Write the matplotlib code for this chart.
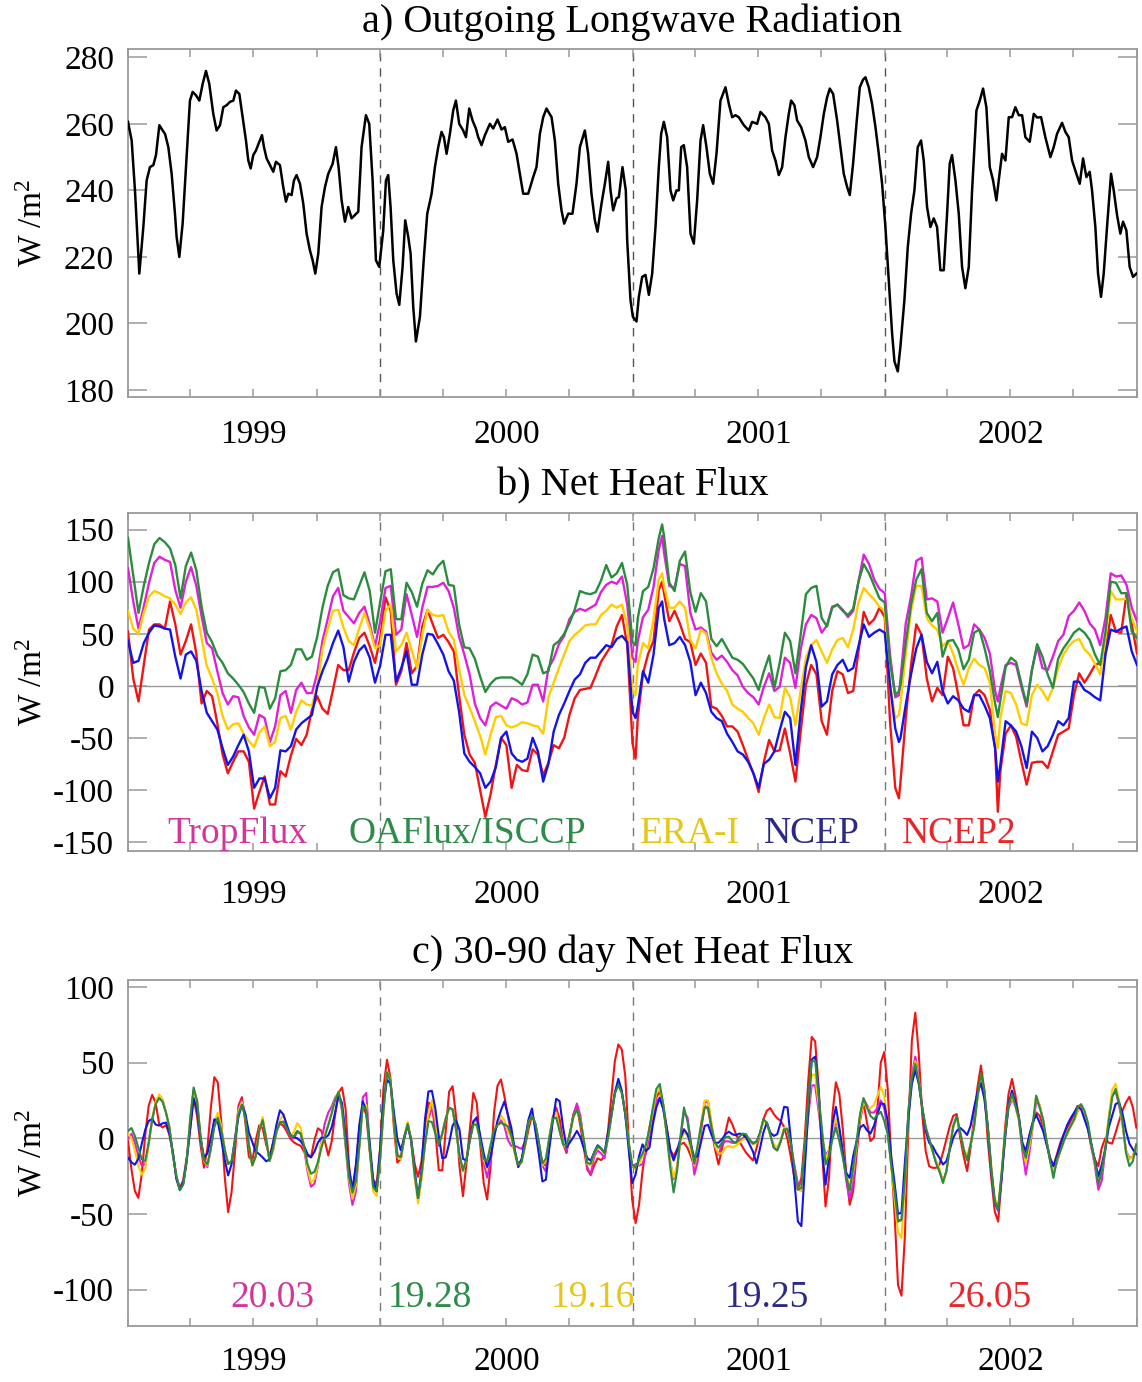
import numpy as np
import matplotlib
matplotlib.use("Agg")
import matplotlib.pyplot as plt

plt.rcParams['font.family'] = ['Liberation Serif', 'DejaVu Serif']
plt.rcParams['mathtext.default'] = 'regular'

# ---------------- data ----------------
# time axis: days since 1999-01-01
year_labels = ['1999', '2000', '2001', '2002']
year_mid_days = [182, 548, 913, 1278]
year_bounds = [365, 731, 1096]
quarter_days = [0, 90, 181, 273, 365, 456, 547, 639, 731, 821, 912, 1004,
                1096, 1186, 1277, 1369, 1461]

# a) OLR
olr_day = [0, 5.3, 10.1, 16.4, 22.2, 27.0, 31.8, 36.7, 40.5, 45.4, 50.2, 53.6, 58.4, 63.2, 68.0, 70.4,
           74.3, 79.1, 84.0, 89.7, 93.6, 98.4, 103.3, 108.1, 112.9, 117.7, 123.5, 128.3, 133.2, 138.0,
           142.8, 147.6, 152.5, 156.3, 161.2, 166.0, 170.8, 174.2, 177.6, 181.4, 185.3, 190.1, 194.0,
           196.9, 200.7, 205.5, 210.4, 214.2, 220.0, 224.8, 228.7, 232.1, 236.9, 240.3, 244.1, 249.0,
           253.8, 258.6, 263.4, 267.3, 271.2, 275.5, 280.3, 285.2, 290.0, 296.3, 301.1, 304.9, 309.3,
           314.1, 318.9, 323.8, 328.6, 333.4, 338.2, 344.5, 349.3, 354.2, 359.0, 363.8, 369.6, 373.5,
           376.8, 380.2, 384.1, 388.9, 392.8, 397.6, 401.4, 405.8, 409.2, 413.0, 416.9, 422.7, 428.5,
           433.3, 439.6, 444.4, 449.2, 454.0, 457.4, 461.3, 466.1, 470.9, 474.8, 479.6, 485.4, 489.3,
           494.1, 498.9, 503.7, 507.1, 511.9, 516.8, 524.0, 528.8, 535.1, 540.9, 545.7, 550.5, 556.8,
           562.6, 567.4, 572.2, 579.5, 586.7, 591.5, 596.4, 601.2, 606.0, 613.3, 618.1, 622.9, 627.7,
           631.6, 637.4, 643.6, 649.4, 654.3, 661.5, 666.3, 671.1, 676.0, 679.8, 685.6, 690.5, 695.3,
           698.7, 702.5, 707.3, 710.7, 716.0, 720.8,
           722.8, 727.6, 731.0, 736.3, 739.7, 744.5, 749.3, 754.2, 759.0, 763.8, 768.6, 772.0, 775.9,
           780.7, 785.5, 789.4, 794.2, 797.6, 801.0, 804.8, 809.6, 814.5, 819.3, 824.1, 829.0, 832.8,
           837.6, 842.5, 847.3, 852.1, 857.9, 865.1, 870.0, 874.8, 879.6, 884.4, 891.7, 898.9, 903.7,
           911.0, 915.8, 923.0, 927.9, 932.7, 937.5, 942.3, 947.2, 952.0, 956.8, 960.2, 965.0, 968.9,
           974.7, 980.9, 985.8, 992.0, 997.8, 1002.6, 1007.5, 1012.3, 1016.2, 1021.0, 1026.8, 1031.6,
           1036.4, 1041.3, 1045.1, 1049.9, 1054.8, 1059.6, 1064.4, 1067.8, 1072.6, 1077.4, 1082.3,
           1087.1, 1091.9, 1096.7, 1101.6, 1106.4, 1109.8, 1114.6, 1118.4, 1124.2, 1129.1, 1133.9,
           1138.7, 1143.5, 1148.3, 1152.2, 1157.0, 1161.9, 1166.7, 1171.5, 1176.3, 1181.2, 1186.0,
           1189.8, 1193.2, 1198.1, 1202.9, 1207.7, 1212.5, 1217.4, 1222.2, 1228.5, 1233.3, 1238.1,
           1242.9, 1247.8, 1252.6, 1257.4, 1260.8, 1265.6, 1270.5, 1275.3, 1280.1, 1284.9, 1289.8,
           1294.6, 1299.4, 1305.7, 1311.5, 1316.3, 1322.1, 1328.3, 1335.6, 1340.4, 1345.2, 1352.5,
           1357.3, 1362.1, 1367.0, 1373.2, 1378.1, 1382.9, 1387.7, 1392.5, 1395.9, 1400.7, 1404.6,
           1408.9, 1412.8, 1417.6, 1423.4, 1427.3, 1432.1, 1436.9, 1440.8, 1445.6, 1450.4, 1455.3,
           1460.1]
olr_val = [260.6, 255, 240, 215, 229, 243, 247, 247.6, 250.6, 259.6, 258, 257, 253, 245, 233, 226,
           220, 230, 247, 267, 269.6, 268.6, 267, 272, 275.9, 272, 263, 258, 259.6, 265,
           265.6, 266.6, 267, 270, 269, 262, 255, 249, 246.6, 250.6, 252, 254.6, 256.6,
           253, 249.6, 247.6, 245.6, 248.6, 247.6, 241, 236.6, 239, 238.6, 243, 244.6, 242,
           236, 227, 222, 219, 215, 221, 235, 241, 245, 248, 253, 247, 237,
           230.6, 235, 231.6, 232.6, 233.6, 253, 262.6, 260, 243, 219, 217, 228, 243,
           244.6, 235, 219, 209, 205.6, 217, 231, 226, 221, 205, 194.6, 202, 220,
           233, 239, 247, 253, 257.6, 256, 251, 257, 264, 267, 260, 258, 256,
           264.6, 261, 258.6, 256, 253.6, 256.6, 260, 258.6, 261.3, 258.3, 259, 254.6, 255.3,
           251, 245, 239, 239, 244, 247, 257, 262, 264.6, 262, 255, 242, 234,
           230, 233, 233, 242, 253, 258, 251, 239, 231, 227.6, 236, 242, 248.6,
           240, 234, 237.6, 238, 247, 240,
           225, 207, 202, 200.6, 208, 214, 214.6, 208.6, 215, 229, 247, 257, 260.6,
           256, 240, 237, 240, 240, 253, 253.6, 247, 227, 224, 237, 255, 259.6,
           253, 245, 242, 251, 267, 271, 266, 262, 262.6, 262, 259.6, 258, 260.6,
           260, 263.6, 262, 260, 252, 249, 244.6, 247, 256, 263, 267, 265.6, 261,
           259, 255, 250, 247, 250, 256, 263, 268, 270.6, 269, 261, 253,
           245, 241, 238.6, 248, 260, 271, 273.3, 274, 271, 266, 259,
           251, 242, 229, 213, 197, 188.6, 185.6, 193, 207, 223, 233,
           240, 253, 255, 249, 235, 229, 231.6, 229, 216, 216, 233,
           248, 250.6, 243, 233, 217, 210.6, 217, 240, 264, 267, 270.6,
           265, 247, 243, 237, 243, 251, 249, 262, 262, 265, 262.6,
           262.6, 256, 254.6, 263, 261.9, 262, 256, 250, 253, 257, 260.3,
           257.6, 256, 249, 245, 242, 249.6, 244, 245.6, 240, 229, 215,
           208, 215, 229, 245, 240, 232.6, 227, 230.6, 228, 217, 214,
           215]

# b) Net heat flux: 48 samples per year (1999-01-01 .. 2003-01-01) ...
b_tropflux = [113, 81, 55, 76, 99, 118, 124, 121, 119, 92, 75, 100, 114, 96, 67, 41, 36, 14, -7, -18,
              -10, -11, -29, -40, -47, -28, -31, -54, -39, -9, -5, -26, -4, 3, -7, -7, 12, 43, 64, 86,
              94, 72, 66, 60, 70, 76, 59, 38,
              62, 94, 96, 49, 54, 88, 68, 47, 75, 95, 95, 96, 99, 91, 75, 47, 30, 11, -17, -31,
              -38, -20, -16, -19, -22, -12, -14, -18, -16, 1, 1, -15, 17, 26, 40, 48, 64, 71, 74, 72,
              75, 78, 90, 97, 100, 98, 105, 78,
              27, 43, 66, 73, 95, 131, 128, 96, 94, 117, 115, 70, 54, 56, 52, 32, 25, 29, 23, 15,
              10, -1, -7, -11, -18, -1, 12, -5, -1, 27, 22, -2, 35, 59, 68, 65, 51, 58, 76, 78,
              73, 66, 72, 100, 126, 117, 102, 93,
              89, 30, -11, 7, 60, 86, 120, 123, 83, 84, 81, 51, 65, 80, 59, 36, 39, 59, 54, 46,
              31, -5, -2, 20, 22, 20, -1, -20, 15, 38, 17, 15, 28, 43, 49, 67, 72, 80, 72, 60,
              54, 39, 65, 108, 105, 106, 97, 75, 62]
b_oaflux = [142, 106, 70, 96, 118, 136, 142, 138, 132, 116, 84, 115, 128, 111, 76, 51, 42, 29, 22, 12,
            7, 1, -6, -17, -26, -1, -2, -22, -12, 14, 15, 20, 35, 35, 25, 28, 47, 75, 96, 109,
            112, 87, 84, 83, 96, 109, 91, 51,
            81, 110, 112, 64, 64, 99, 90, 76, 98, 111, 107, 115, 120, 97, 96, 59, 37, 36, 26, 9,
            -6, 2, 7, 8, 8, 8, 5, 1, 11, 30, 28, 12, 14, 39, 43, 50, 60, 73, 91, 89,
            88, 90, 101, 116, 104, 108, 118, 97,
            42, 65, 91, 95, 113, 142, 144, 99, 91, 120, 129, 90, 71, 89, 81, 45, 38, 45, 36, 27,
            25, 21, 14, 7, -4, 14, 29, -2, 22, 51, 43, 12, 49, 88, 94, 96, 65, 57, 75, 78,
            72, 68, 74, 100, 117, 108, 96, 84,
            80, 23, -9, 1, 41, 78, 102, 112, 70, 62, 70, 28, 43, 44, 35, 16, 25, 51, 54, 36,
            14, -17, -14, 18, 27, 23, 2, -18, 15, 40, 28, 11, -2, 26, 36, 43, 51, 55, 51, 44,
            30, 20, 52, 100, 99, 89, 89, 52, 46]
b_erai = [72, 55, 50, 70, 86, 91, 89, 86, 84, 78, 69, 80, 85, 73, 46, 19, 7, -7, -29, -42,
          -37, -36, -46, -53, -59, -45, -39, -58, -54, -31, -29, -42, -25, -14, -18, -19, -1, 35, 55, 72,
          73, 56, 43, 39, 55, 70, 55, 36,
          39, 72, 78, 33, 39, 51, 34, 17, 49, 73, 68, 67, 68, 52, 44, 17, -9, -21, -34, -48,
          -66, -47, -30, -29, -38, -40, -38, -35, -36, -38, -39, -46, -11, 3, 17, 30, 43, 49, 53, 58,
          59, 59, 68, 72, 78, 75, 78, 59,
          -5, 20, 41, 36, 64, 102, 96, 75, 75, 81, 75, 44, 36, 54, 50, 27, 12, 2, -5, -18,
          -22, -25, -31, -36, -47, -31, -18, -30, -31, -2, -11, -38, -4, 27, 39, 44, 33, 22, 35, 44,
          46, 37, 54, 80, 94, 88, 83, 76,
          72, 1, -31, -17, 30, 72, 96, 96, 65, 58, 54, 38, 43, 31, 15, 1, 17, 26, 20, 17,
          3, -47, -31, -5, -7, -18, -36, -38, -9, 1, -5, -14, -2, 17, 30, 38, 43, 45, 35, 30,
          21, 11, 46, 91, 83, 83, 84, 65, 52]
b_ncep = [43, 22, 24, 41, 51, 58, 57, 55, 54, 28, 7, 30, 33, 24, -5, -26, -34, -42, -60, -76,
          -68, -57, -47, -63, -98, -89, -89, -108, -98, -62, -63, -58, -42, -36, -32, -28, -1, 14, 26, 41,
          53, 37, 4, 23, 34, 39, 27, 3,
          20, 49, 49, 4, 17, 33, 1, 1, 30, 50, 49, 40, 30, 14, 5, -25, -65, -73, -78, -84,
          -98, -92, -78, -50, -44, -65, -71, -73, -70, -50, -63, -92, -75, -44, -28, -17, -5, 6, 11, 22,
          27, 27, 33, 39, 37, 45, 48, 42,
          -25, -20, 14, 3, 30, 75, 65, 39, 41, 47, 39, 23, -9, 3, -7, -25, -31, -34, -46, -54,
          -63, -66, -73, -84, -98, -75, -71, -63, -43, -25, -31, -76, -25, 18, 39, 23, -20, -15, 11, 20,
          25, 14, 17, 38, 59, 47, 51, 54,
          51, 1, -41, -50, -18, 11, 36, 49, 23, 12, 23, -5, -17, -10, -14, -22, -25, -9, -9, -19,
          -31, -60, -76, -34, -38, -44, -58, -79, -44, -50, -63, -58, -47, -34, -38, -31, 4, 4, -4, -7,
          -11, -14, 30, 54, 52, 55, 57, 33, 20]
b_ncep2 = [52, 7, -15, 20, 54, 59, 59, 55, 81, 59, 30, 43, 59, 31, -17, -5, -10, -36, -66, -84,
           -73, -63, -63, -73, -118, -102, -87, -114, -114, -82, -87, -67, -51, -57, -47, -23, -10, -22, -27, -4,
           20, 15, 15, 32, 46, 51, 38, 22,
           46, 85, 72, 1, 14, 41, 12, 19, 57, 73, 59, 46, 49, 42, 33, -9, -47, -66, -74, -100,
           -126, -104, -76, -50, -57, -98, -76, -81, -82, -61, -66, -86, -74, -57, -60, -50, -28, -12, -4, -3,
           -2, 10, 23, 31, 39, 57, 68, 39,
           -55, -31, 12, 31, 43, 92, 89, 62, 72, 60, 45, 42, 20, 31, 22, -20, -22, -29, -39, -39,
           -44, -57, -71, -84, -102, -73, -52, -63, -62, -41, -65, -92, -44, 1, 20, 11, -34, -47, -5, 14,
           11, -7, -5, 33, 71, 59, 64, 75,
           66, -34, -98, -92, -31, 20, 59, 49, 7, -15, -2, -9, 28, 17, -9, -38, -38, -9, -4, -9,
           -23, -60, -82, -46, -38, -49, -73, -95, -74, -73, -73, -79, -63, -47, -44, -41, -9, 12, 3, 11,
           20, 22, 33, 68, 52, 51, 88, 59, 31]
b_day = np.linspace(0, 1461, len(b_tropflux))
# ... plus a few extra samples at sharp extremes
b_extra_day = [734.9, 773.4, 1116.3, 1259.5]
b_extra = {'TropFlux': [23, 144, -9, -15], 'OAFlux/ISCCP': [39, 155, -5, -30], 'ERA-I': [-9, 108, -28, -60],
           'NCEP': [-31, 81, -54, -92], 'NCEP2': [-70, 100, -108, -121]}

# c) 30-90 day filtered net heat flux, 5-day samples from 1999-01-01
c_day = list(range(0, 1461, 5))
c_tropflux = [0, 3, -3, -12, -18, -17, -3, 12, 23, 27, 25, 17, 7, -11, -25, -34, -30, -15, 12, 32,
              25, 1, -15, -19, -7, 9, 16, 7, -7, -17, -15, -1, 20, 25, 15, -4, -18, -12, 5, 12,
              0, -15, -8, 4, 10, 11, 6, 1, 0, 4, 3, -7, -22, -32, -30, -18, -2, 10, 17, 21,
              27, 30, 18, -5, -30, -44, -35, -5, 27, 30, -6, -32, -35, -14, 19, 43, 38, 12, -10, -14,
              0, 9, -2, -25, -41, -26, -4, 13, 20, 10, -5, 3, 13, 20, 19, 6, -11, -21, -14, -1,
              10, 14, 0, -16, -26, -15, 3, 9, 12, 8, -1, -5, -5, -6, -7, -2, 11, 16, 9, -4,
              -18, -22, 0, 14, 18, 5, -4, -8, 2, 16, 23, 15, -2, -19, -24, -12, -8, -10, -13, 0,
              15, 30, 36, 30, 16, -3, -19,
              -17, -18, -17, -10, 2, 14, 24, 27, 20, 3, -15, -27, -20, 0, 17, 14, -2, -24, -15, 8,
              24, 24, 8, -6, -11, -4, -2, -2, -3, -3, -2, 0, 2, -1, -3, -2, 3, 11, 10, 2,
              -6, -8, -2, 6, 6, -4, -18, -30, -30, -8, 15, 35, 35, 18, 0, -11, -8, 3, 11, 5,
              -10, -28, -40, -30, -6, 15, 26, 22, 17, 17, 20, 25, 20, 5, -17, -35, -54, -54, -28, 18,
              42, 54, 40, 20, 7, 0, -8, -16, -22, -28, -22, -6, 8, 14, 4, -7, -13, -4, 8, 28,
              40, 30, 7, -20, -43, -48, -25, 1, 20, 26, 21, 12, -8, -24, -10, 8, 24, 22, 12, -2,
              -14, -23, -16, -8, -2, 3, 8, 12, 18, 20, 17, 8, -6, -18, -34, -28, -8, 12, 28, 31,
              22, 9, -8, -13, -12, -4]
c_oaflux = [4.9, 6.8, 1.5, -6.2, -13.9, -15, -2.9, 12.6, 22.5, 26.5, 24.3, 17, 7.1, -11, -25, -34.4, -30.5, -15,
            12.1, 33.6, 24.7, 1.3, -14.4, -17.2, -6.2, 7.5, 13.5, 5.7, -7.5, -17, -15, -1.1, 16.3, 22.1, 13.2,
            -4.6, -17.7, -11.7, 4.9, 12.1, -0.4, -14.8, -6.6, 4.9, 10.6, 11, 6.6, 2, 1.1, 4.9, 3.3, -5.1, -17.2,
            -23.4, -22.1, -15.7, -6.4, 1.1, 8.6, 16.6, 25.4, 30.7, 19.9, -2.9, -25.6, -35.8, -28.3, -5.1, 21.6,
            18.8, -7.3, -32.2, -35.1, -13.9, 19.2, 43.7, 38, 12.6, -11.7, -12.4, 0, 9.5, -1.1, -23, -39.3, -23.8,
            -4, 11.3, 10.8, 3.1, -4, 3.1, 13, 20.3, 19.2, 6, -11.7, -21.2, -14.1, -1.3, 9.1, 8.8, -1.8, -13.5,
            -15, -4.2, 5.3, 8.8, 10.2, 9.3, 7.9, 2, -8.6, -17.7, -15.5, -4.2, 11.3, 15, 9.5, -2.9, -16.6, -13.5,
            0.4, 12.8, 13.7, 4.9, -4, -4.6, 3.8, 14.4, 19, 11.9, -1.1, -16.3, -16.8, -9.3, -5.3, -6.8, -9.9, 0.4,
            14.8, 29.8, 35.1, 30, 16.6, -2.9, -17.2,
            -19.5, -14, -10.2, -4, 6, 20.4, 32.6, 35.9, 22.6, 2.7, -18.4, -35.7, -21.7, 1.6, 20.4, 11.5, -4, -16.8,
            -4, 9.3, 20.4, 20.4, 7.5, -2.9, -6.2, -2.9, 0.9, 1.1, -1.8, -2.9, 0.9, 3.1, 2.7, -1.3, -3.5, -2.4,
            3.8, 12.6, 10.4, 2.7, -6.2, -8, -2.2, 6, 6, -4, -19.5, -33.9, -32.8, -6.2, 24.8, 51, 51, 28.2, 6,
            -17.3, -11.8, -0.7, 7.1, -1.8, -12.9, -25.1, -34.6, -19.5, -1.8, 16, 26.6, 20.4, 14.9, 12.6, 15.3,
            17.5, 11.5, 2.7, -17.3, -35, -55, -54, -26.2, 18.2, 40.3, 49.2, 37, 20.4, 7.5, -0.7, -8.4, -16.2,
            -21.7, -29.5, -21.7, -6.2, 8.2, 14.9, 3.8, -7.3, -14.6, -4, 7.1, 27, 43, 31.5, 7.1, -20.6, -41.7,
            -47, -22.8, 2.7, 21.5, 29.3, 21.5, 13.7, -6.2, -12.9, -1.8, 9.3, 28.2, 20.4, 12.6, -1.8, -14.6,
            -26.2, -14, -8.4, -1.8, 3.8, 8.2, 12.6, 20.4, 22.6, 18.2, 10.4, -4, -15.1, -30.6, -21.7, -7.3, 11.5,
            27, 32.6, 23.7, 11.5, -9.5, -18.4, -15.1, -4]
c_erai = [3, 0, -8, -18, -24, -20, -4, 13, 24, 29, 26, 17, 7, -11, -25, -34, -30, -15, 12, 31,
          24, 1, -15, -18, -6, 10, 17, 8, -7, -17, -15, -1, 18, 24, 14, -4, -18, -12, 5, 14,
          0, -15, -8, 4, 12, 16, 8, 2, 4, 10, 7, -5, -20, -29, -27, -17, -3, 3, 9, 17,
          26, 31, 20, -3, -27, -40, -31, -5, 22, 22, -7, -35, -38, -14, 19, 44, 39, 12, -12, -14,
          0, 11, -1, -25, -43, -27, -4, 16, 25, 13, -4, 3, 13, 20, 19, 6, -12, -22, -14, -1,
          10, 10, -1, -14, -20, -8, 5, 10, 15, 12, 5, 0, -10, -19, -16, -4, 11, 16, 9, -4,
          -18, -15, 0, 14, 17, 5, -4, -6, 3, 14, 19, 12, -1, -17, -18, -10, -6, -7, -10, 0,
          15, 30, 37, 31, 17, -3, -18,
          -20, -17, -12, -5, 5, 18, 30, 33, 22, 2, -15, -26, -18, -2, 4, 2, -8, -18, -8, 10,
          25, 25, 10, -5, -10, -10, -6, -5, -6, -5, -3, -1, 0, -2, -4, -3, 3, 11, 10, 2,
          -4, -6, -1, 7, 7, -4, -20, -34, -35, -8, 20, 42, 42, 22, 2, -14, -8, 5, 13, 5,
          -8, -24, -32, -22, -4, 14, 24, 20, 20, 22, 28, 34, 28, 10, -18, -40, -62, -66, -30, 16,
          40, 51, 38, 20, 7, -2, -9, -15, -20, -29, -22, -6, 8, 14, 4, -7, -12, -4, 8, 26,
          38, 30, 7, -18, -40, -44, -22, 3, 22, 27, 21, 12, -5, -16, -5, 8, 28, 22, 12, -2,
          -14, -22, -15, -8, -2, 3, 8, 12, 18, 20, 17, 8, -5, -16, -28, -22, -6, 14, 32, 36,
          25, 9, -8, -14, -12, -4]
c_ncep = [-12.8, -15.9, -17.4, -13.5, -3.5, 5.7, 11.5, 12.8, 9.1, 8.4, 9.9, 10.4, 3.3, -9.3, -26.9, -33.8,
          -29.4, -14.4, 6, 26.3, 18.8, -0.2, -12.6, -9.9, 0.4, 12.6, 11, -0.4, -14.1, -24.5, -17, -0.2, 14.4,
          22.1, 16.1, 3.8, -2.6, -8.8, -10.4, -12.6, -15.2, -13.9, -3.3, 9.1, 18.5, 15.7, 8.8, 2.2, 0.9, 0,
          -1.8, -5.3, -10.4, -12.6, -8.8, -2.9, 0.4, 0.4, 2, 7.5, 17.2, 28.7, 23.2, 2.2, -20.3, -33.6, -17.2,
          9.1, 24.5, 18.1, -3.1, -27.6, -34.9, -7.3, 24.1, 38.6, 36.2, 17.4, -0.4, -7.9, 0.4, 8.6, -1.1,
          -20.8, -39.3, -21, 12.4, 30.9, 31.4, 19.7, 1.5, -13.2, -12.6, -3.3, 8.4, 11.9, 5.7, -13.5, -14.8,
          -0.4, 11.3, 13.7, 2, -9.9, -19, -12.1, 0.4, 11.5, 18.5, 24.3, 15.9, 7.1, -7.3, -19, -13.7, -0.4,
          12.6, 19.7, 4.6, -10.8, -28.5, -27.4, -6.8, 11.3, 26.1, 24.5, 7.1, -6, -2.6, 0.9, 4.9, 0.7, -6.6,
          -13, -14.8, -9.3, -4.6, -6.6, -9.5, 3.3, 16.1, 30.2, 39.3, 31.4, 15.9, -7.3, -29.6,
          -23.9, -11.8, -4, -8.4, -6.2, 9.3, 20.4, 26.6, 19.3, 7.1, -7.3, -14.6, -8.4, 0, 6, 2.7, -4, -12.9,
          -11.8, -1.8, 8.2, 8.9, 2.2, -2.9, -2.9, -0.7, 2.7, 4.4, 2.7, 2, 3.1, 2.7, 0.4, -4, -8.9, -16.6,
          -6.9, 3.8, 10.4, 3.8, 1.6, 2.7, 10.4, 20.8, 20.4, -1.8, -28.4, -55, -58, -19.5, 18.2, 52, 54, 31.5,
          -8.4, -30.6, -12.9, 9.3, 20.8, 7.1, -8.9, -22.8, -26.2, -11.8, -1.8, 7.1, 8.9, 5.3, 3.1, 8.2, 15.5,
          23.1, 22.6, 11.5, -11.8, -29.5, -50, -49, -15.1, 13.7, 35.9, 45.2, 35.9, 20.4, 4.9, -2.9, -5.1, -9.5,
          -12.9, -17.3, -15.1, -7.3, 0.4, 4.9, 6.9, 4.9, 2.2, 8.2, 20, 30.4, 36.4, 25.9, 7.1, -21.7, -41.7,
          -47.2, -26.2, 0.4, 22.6, 31.5, 23.7, 13.7, -2.9, -8.4, 1.6, 10.4, 15.5, 10.4, 4.9, -4, -12.9, -18.4,
          -11.8, -4.4, 2.7, 8.9, 13.3, 17.1, 20.8, 19.3, 12.6, 6, -4, -14.6, -25.1, -17.3, -7.3, 7.1, 14.9,
          22.6, 23.7, 16.4, 4.9, -3.5, -7.3, -10.6]
c_ncep2 = [-1.8, -20.5, -34.9, -39.3, -23.4, 2.6, 21.6, 28.7, 23.6, 9.7, 7.1, 8.8, 2.2, -9.5, -25.2, -32.7,
           -27.6, -12.8, 6, 27.2, 14.8, -4.4, -19.4, -6.6, 20.3, 40.4, 36.9, 11, -25, -48.8, -35.3, -8.8,
           21.6, 27.2, 10.2, -12.1, -15, -1.3, 8.6, 6.6, -4, -12.1, -2.9, 5.3, 9.9, 8.2, 4.4, -0.2, -2.6, -4,
           -4.9, -8.8, -11.7, -12.4, -1.1, 6.6, 4.9, -1.8, -11.3, -1.8, 15.9, 30.2, 33.6, 19.7, -17.9, -37.1,
           -19.9, 7.1, 20.8, 15.9, -8.4, -27.2, -30.5, -7.3, 33.6, 51.9, 40, 7.1, -16.1, -13.5, 1.5, 9.5, -0.9,
           -16.6, -25.4, -15, 7.9, 23.6, 22.1, 4.9, -21, -21.2, 4.9, 30.9, 34.4, 14.4, -18.5, -38.2, -16.8, 6,
           30, 23.4, -4, -29.4, -40.4, -18.5, 17, 34.7, 38.9, 27.8, 15.2, 2.6, -9.5, -17.4, -14.1, -4.9, 6,
           15.5, 9.3, -3.3, -17.4, -17.7, -5.1, 12.6, 20.3, 12.6, -3.3, -9.7, 3.8, 15.9, 21.2, 8.2, -6.2,
           -20.5, -24.3, -17.9, -13.2, -14.4, -12.1, 4.9, 28.3, 51.2, 62, 58.7, 41.3, -0.7, -40.4,
           -56, -43.9, -21.7, -6.2, 7.1, 18.2, 27, 31, 22.2, 7.1, -7.3, -11.8, -7.3, -4, -2.9, -6.2, -11.8,
           -18.4, -9.5, 6, 21.5, 19.3, 6, -7.3, -17.3, -7.3, 3.8, 13.7, 9.3, 3.1, -1.8, -5.8, -9.5, -12.2,
           -14.6, -6.7, 2.7, 12.6, 18.2, 20, 16, 13.3, 11.5, 7.5, -0.7, -12.9, -26.2, -33.9, -26.2, 0.4, 38.1,
           67, 64, 33.7, -8.4, -45, -26.2, 16, 37, 29.3, 6, -23.9, -43.9, -35, -10.6, 11.5, 23.7, 10.4, -1.8,
           0.4, 19.3, 50, 57, 32.6, -11.8, -50.5, -97, -104, -63.8, 7.1, 64.7, 83, 55.9, 16, -8.4, -18.4,
           -19.5, -19.5, -17.3, -9.5, -0.7, 8.2, 14.9, 16, 0.4, -11.8, -21.7, -6.2, 12.6, 33.7, 48.1, 31.5,
           -1.8, -26.2, -48.3, -55, -26.2, 7.1, 29.3, 39.2, 28.2, 13.7, -4, -9.5, 1.6, 10.4, 17.1, 14.9, 8.2,
           -1.8, -12.9, -18.4, -10.6, -2.9, 2.7, 7.1, 11.5, 16, 21.5, 20.4, 13.7, 6, -6.2, -14, -18.4, -6.2,
           0, -2.9, -3.5, 3.8, 11.5, 18.2, 23.7, 27.5, 20.4, 7.1]

series_names = ['TropFlux', 'OAFlux/ISCCP', 'ERA-I', 'NCEP', 'NCEP2']
c_std_labels = ['20.03', '19.28', '19.16', '19.25', '26.05']

line_colors = {'TropFlux': '#e020d8', 'OAFlux/ISCCP': '#2a8c3c', 'ERA-I': '#ffcc00',
               'NCEP': '#1414e6', 'NCEP2': '#f01414'}
text_colors = {'TropFlux': '#d4359a', 'OAFlux/ISCCP': '#2e8b4a', 'ERA-I': '#e6c619',
               'NCEP': '#2b2b85', 'NCEP2': '#e8262b'}

b_data = {'TropFlux': b_tropflux, 'OAFlux/ISCCP': b_oaflux, 'ERA-I': b_erai, 'NCEP': b_ncep, 'NCEP2': b_ncep2}
c_data = {'TropFlux': c_tropflux, 'OAFlux/ISCCP': c_oaflux, 'ERA-I': c_erai, 'NCEP': c_ncep, 'NCEP2': c_ncep2}
draw_order = ['NCEP2', 'TropFlux', 'ERA-I', 'NCEP', 'OAFlux/ISCCP']

# merge regular and extra samples of panel b (sorted by time)
b_all_day = np.concatenate([b_day, b_extra_day])
b_order = np.argsort(b_all_day)
b_all_day = b_all_day[b_order]
b_all = {k: np.concatenate([np.asarray(b_data[k], float), np.asarray(b_extra[k], float)])[b_order]
         for k in series_names}

# ---------------- figure ----------------
W, H = 1142, 1382
fig = plt.figure(figsize=(W / 100, H / 100), dpi=100)

def px_axes(left, top, right, bottom):
    return fig.add_axes([left / W, 1 - bottom / H, (right - left) / W, (bottom - top) / H])

axA = px_axes(128, 49, 1137, 397)
axB = px_axes(128, 513, 1137, 851)
axC = px_axes(128, 980, 1137, 1326)

FS = 24
frame_c = '#9a9a9a'

def style(ax, ylim, yticks, title, label_off_px, zero=False, dash_c='#666666'):
    ax.set_xlim(0, 1461)
    ax.set_ylim(*ylim)
    for s in ax.spines.values():
        s.set_color(frame_c)
        s.set_linewidth(1.3)
    ax.set_xticks(quarter_days)
    ax.set_xticklabels([])
    ax.tick_params(axis='x', direction='in', top=True, bottom=True, length=6, width=1.1, color=frame_c)
    ax.set_yticks(yticks)
    ax.set_yticklabels([str(v) for v in yticks], fontsize=FS)
    ax.tick_params(axis='y', direction='in', left=True, right=True, length=14, width=1.1,
                   color=frame_c, pad=10)
    for d in year_bounds:
        ax.axvline(d, color=dash_c, lw=1.0, dashes=(6, 5), zorder=1)
    if zero:
        ax.axhline(0, color='#999999', lw=1.0, zorder=1)
    for d, lab in zip(year_mid_days, year_labels):
        ax.annotate(lab, xy=(d, 0), xycoords=('data', 'axes fraction'),
                    xytext=(0, -label_off_px * 0.72), textcoords='offset points',
                    ha='center', va='center', fontsize=FS)
    ax.annotate(title, xy=(0.5, 1), xycoords='axes fraction', xytext=(0, 27 * 0.72),
                textcoords='offset points', ha='center', va='center', fontsize=29)
    ax.text(-0.094, 0.5, 'W /m$^{2}$', transform=ax.transAxes, rotation=90,
            ha='center', va='center', fontsize=FS)

# panel a
style(axA, (177.9, 282.5), [180, 200, 220, 240, 260, 280], 'a) Outgoing Longwave Radiation', 38,
      dash_c='#555555')
axA.plot(olr_day, olr_val, color='black', lw=1.8, zorder=3)

# panel b
style(axB, (-158.7, 166), [-150, -100, -50, 0, 50, 100, 150], 'b) Net Heat Flux', 44, zero=True,
      dash_c='#777777')
for name in draw_order:
    axB.plot(b_all_day, b_all[name], color=line_colors[name], lw=1.7, zorder=3, solid_joinstyle='round')
legend_x = [0.108, 0.336, 0.557, 0.678, 0.824]
for name, x in zip(series_names, legend_x):
    axB.text(x, 0.025, name, transform=axB.transAxes, ha='center', va='baseline',
             fontsize=27, color=text_colors[name])

# panel c
style(axC, (-124, 104.6), [-100, -50, 0, 50, 100], 'c) 30-90 day Net Heat Flux', 36, zero=True,
      dash_c='#777777')
for name in draw_order:
    axC.plot(c_day, c_data[name], color=line_colors[name], lw=1.5, zorder=3, solid_joinstyle='round')
std_x = [0.143, 0.299, 0.461, 0.633, 0.854]
for name, lab, x in zip(series_names, c_std_labels, std_x):
    axC.text(x, 0.055, lab, transform=axC.transAxes, ha='center', va='baseline',
             fontsize=27, color=text_colors[name])

fig.savefig('out.png', dpi=100)
